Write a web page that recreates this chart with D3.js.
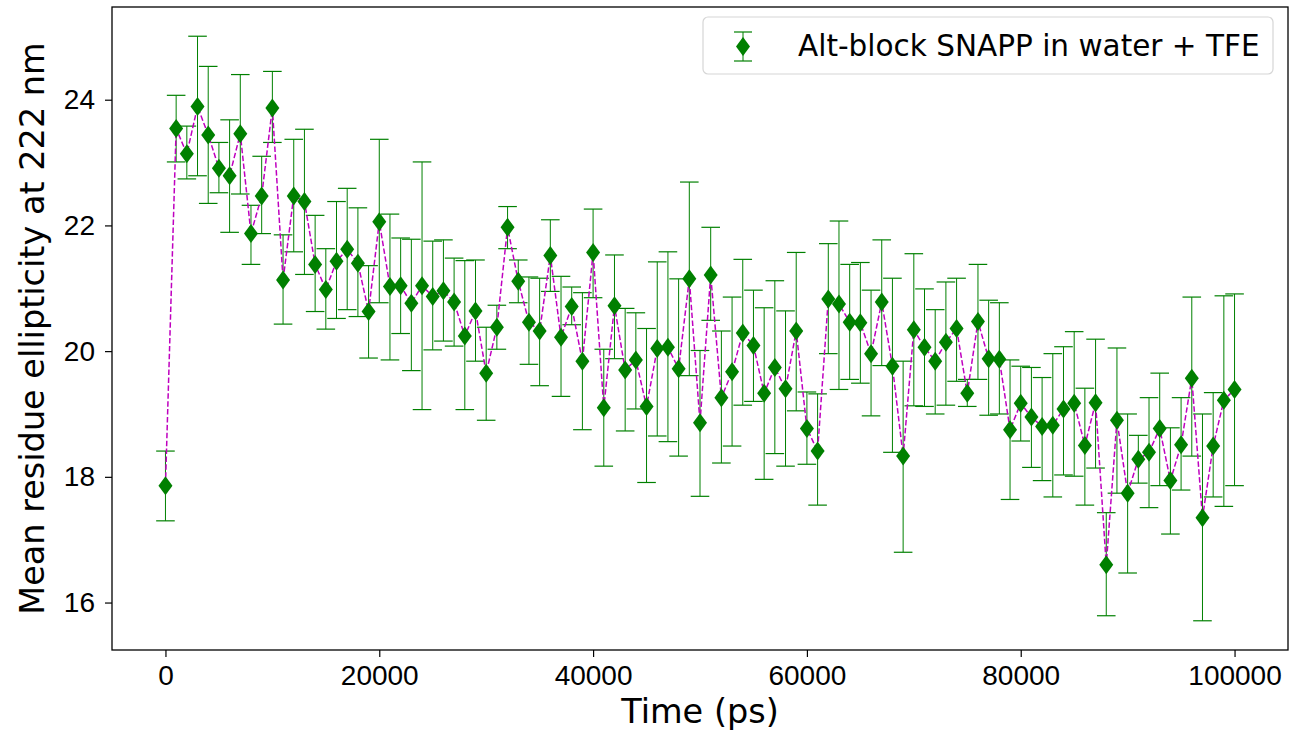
<!DOCTYPE html>
<html>
<head>
<meta charset="utf-8">
<script src="https://cdn.jsdelivr.net/npm/d3@7"></script>
<style>
  body { margin: 0; background: #fff; }
  svg { display: block; font-family: "DejaVu Sans", sans-serif; }
</style>
</head>
<body>
<svg id="chart"></svg>
<script>
// time in ps, step 1000
const times = d3.range(0, 101000, 1000);

// mean residue ellipticity at 222 nm
const values = [
  17.86, 23.54, 23.14, 23.89, 23.44, 22.91, 22.79, 23.46, 21.87, 22.47,
  23.87, 21.13, 22.47, 22.38, 21.38, 20.98, 21.43, 21.62, 21.40, 20.63,
  22.06, 21.03, 21.04, 20.76, 21.04, 20.87, 20.96, 20.78, 20.24, 20.64,
  19.65, 20.38, 21.97, 21.11, 20.46, 20.32, 21.52, 20.22, 20.71, 19.84,
  21.57, 19.10, 20.72, 19.70, 19.86, 19.12, 20.04, 20.06, 19.72, 21.15,
  18.86, 21.21, 19.26, 19.67, 20.29, 20.09, 19.33, 19.74, 19.40, 20.32,
  18.77, 18.41, 20.83, 20.75, 20.46, 20.45, 19.96, 20.78, 19.76, 18.33,
  20.34, 20.06, 19.84, 20.14, 20.36, 19.33, 20.47, 19.88, 19.87, 18.75,
  19.17, 18.95, 18.80, 18.82, 19.08, 19.17, 18.50, 19.18, 16.60, 18.90,
  17.74, 18.28, 18.39, 18.77, 17.94, 18.51, 19.57, 17.35, 18.49, 19.22,
  19.39
];

// upper and lower ends of the error bars
const upper = [
  18.41, 24.07, 23.58, 25.01, 24.53, 23.32, 23.68, 24.40, 22.32, 23.10,
  24.45, 21.85, 23.37, 23.53, 22.16, 21.63, 22.38, 22.59, 22.28, 21.36,
  23.37, 22.18, 21.80, 21.78, 23.01, 21.75, 21.77, 21.48, 21.44, 21.45,
  20.38, 20.73, 22.30, 21.45, 21.18, 21.16, 22.09, 21.19, 21.02, 20.93,
  22.26, 20.03, 21.53, 20.68, 20.61, 20.36, 21.42, 21.58, 21.15, 22.69,
  20.01, 21.97, 20.32, 20.86, 21.46, 20.97, 20.69, 21.12, 20.64, 21.57,
  19.35, 19.32, 21.71, 22.07, 21.38, 21.41, 20.97, 21.77, 21.16, 19.84,
  21.55, 20.99, 20.66, 21.10, 21.16, 19.55, 21.38, 20.81, 20.77, 19.86,
  19.76, 19.74, 19.58, 19.96, 20.07, 20.31, 19.41, 20.19, 17.43, 20.05,
  19.00, 18.66, 19.26, 19.65, 18.78, 19.26, 20.86, 19.00, 19.34, 20.88,
  20.91
];
const lower = [
  17.30, 23.01, 22.74, 22.79, 22.35, 22.52, 21.89, 22.50, 21.38, 21.87,
  23.32, 20.43, 21.58, 21.22, 20.63, 20.35, 20.52, 20.66, 20.55, 19.89,
  20.77, 19.86, 20.28, 19.69, 19.07, 20.02, 20.16, 20.08, 19.07, 19.84,
  18.90, 20.03, 21.63, 20.77, 19.79, 19.45, 20.95, 19.28, 20.42, 18.75,
  20.85, 18.17, 19.88, 18.73, 19.08, 17.91, 18.65, 18.56, 18.33, 19.61,
  17.69, 20.49, 18.22, 18.49, 19.14, 19.20, 17.96, 18.37, 18.17, 19.05,
  18.20, 17.55, 19.96, 19.39, 19.55, 19.49, 18.97, 19.77, 18.39, 16.80,
  19.13, 19.12, 19.00, 19.14, 19.52, 19.12, 19.55, 18.98, 19.00, 17.64,
  18.57, 18.15, 17.94, 17.68, 18.03, 18.01, 17.55, 18.14, 15.79, 17.74,
  16.47, 17.90, 17.51, 17.86, 17.09, 17.79, 18.33, 15.71, 17.68, 17.53,
  17.86
];

const xTicks = [0, 20000, 40000, 60000, 80000, 100000];
const yTicks = [16, 18, 20, 22, 24];
const seriesLabel = 'Alt-block SNAPP in water + TFE';

const data = times.map((t, i) => ({ t: t, v: values[i], hi: upper[i], lo: lower[i] }));

const W = 1311, H = 735;
const margin = { top: 7, right: 23, bottom: 85, left: 112 };
const iw = W - margin.left - margin.right,
  ih = H - margin.top - margin.bottom;

const svg = d3.select('#chart').attr('width', W).attr('height', H);

// matplotlib-like 5% padding around the data
const xMin = d3.min(times), xMax = d3.max(times);
const yMin = d3.min(lower), yMax = d3.max(upper);
const xPad = (xMax - xMin) * 0.05, yPad = (yMax - yMin) * 0.05;

const x = d3.scaleLinear().domain([xMin - xPad, xMax + xPad]).range([0, iw]);
const y = d3.scaleLinear().domain([yMin - yPad, yMax + yPad]).range([ih, 0]);

const g = svg.append('g').attr('transform', `translate(${margin.left},${margin.top})`);

const green = '#008000';
const magenta = '#bf00bf';
const cap = 9.3;

// error bars
const bars = g.append('g').attr('class', 'errorbars');
bars.selectAll('line.stem')
  .data(data)
  .enter()
  .append('line')
  .attr('class', 'stem')
  .attr('x1', d => x(d.t)).attr('x2', d => x(d.t))
  .attr('y1', d => y(d.lo)).attr('y2', d => y(d.hi))
  .attr('stroke', green).attr('stroke-width', 1);

['hi', 'lo'].forEach(k => {
  bars.selectAll('line.cap-' + k)
    .data(data)
    .enter()
    .append('line')
    .attr('class', 'cap-' + k)
    .attr('x1', d => x(d.t) - cap).attr('x2', d => x(d.t) + cap)
    .attr('y1', d => y(d[k])).attr('y2', d => y(d[k]))
    .attr('stroke', green).attr('stroke-width', 1.2);
});

// dashed connecting line
const line = d3.line().x(d => x(d.t)).y(d => y(d.v));
g.append('path')
  .datum(data)
  .attr('d', line)
  .attr('fill', 'none')
  .attr('stroke', magenta)
  .attr('stroke-width', 1.5)
  .attr('stroke-dasharray', '5.5,2.4');

// diamond markers
const diamond = 'M0,-9.5L7,0L0,9.5L-7,0Z';
g.append('g')
  .selectAll('path')
  .data(data)
  .enter()
  .append('path')
  .attr('d', diamond)
  .attr('transform', d => `translate(${x(d.t)},${y(d.v)})`)
  .attr('fill', green);

// axes
const xAxis = d3.axisBottom(x).tickValues(xTicks).tickSize(7).tickPadding(8).tickFormat(d3.format('d'));
const yAxis = d3.axisLeft(y).tickValues(yTicks).tickSize(7).tickPadding(10).tickFormat(d3.format('d'));

const gx = g.append('g').attr('transform', `translate(0,${ih})`).call(xAxis);
const gy = g.append('g').call(yAxis);
[gx, gy].forEach(a => {
  a.select('.domain').remove();
  a.selectAll('.tick line').attr('stroke', '#000').attr('stroke-width', 1.2);
  a.selectAll('.tick text').attr('fill', '#000').style('font-size', '28px');
});

// frame
g.append('rect')
  .attr('width', iw).attr('height', ih)
  .attr('fill', 'none').attr('stroke', '#000').attr('stroke-width', 1.3);

// axis labels
svg.append('text')
  .attr('x', margin.left + iw / 2).attr('y', 723)
  .attr('text-anchor', 'middle')
  .style('font-size', '33.5px')
  .text('Time (ps)');

svg.append('text')
  .attr('transform', `translate(44,${margin.top + ih / 2}) rotate(-90)`)
  .attr('text-anchor', 'middle')
  .style('font-size', '33.5px')
  .text('Mean residue ellipticity at 222 nm');

// legend
const lg = svg.append('g').attr('transform', 'translate(703,17)');
lg.append('rect')
  .attr('width', 570).attr('height', 57).attr('rx', 5)
  .attr('fill', '#fff').attr('fill-opacity', 0.8)
  .attr('stroke', '#d6d6d6').attr('stroke-width', 1.2);
lg.append('line')
  .attr('x1', 40).attr('x2', 40).attr('y1', 15).attr('y2', 44)
  .attr('stroke', green).attr('stroke-width', 1);
[15, 44].forEach(cy => {
  lg.append('line')
    .attr('x1', 31).attr('x2', 49).attr('y1', cy).attr('y2', cy)
    .attr('stroke', green).attr('stroke-width', 1.2);
});
lg.append('path')
  .attr('d', diamond)
  .attr('transform', 'translate(40,29.5)')
  .attr('fill', green);
lg.append('text')
  .attr('x', 95).attr('y', 39)
  .style('font-size', '29.5px')
  .text(seriesLabel);
</script>
</body>
</html>
